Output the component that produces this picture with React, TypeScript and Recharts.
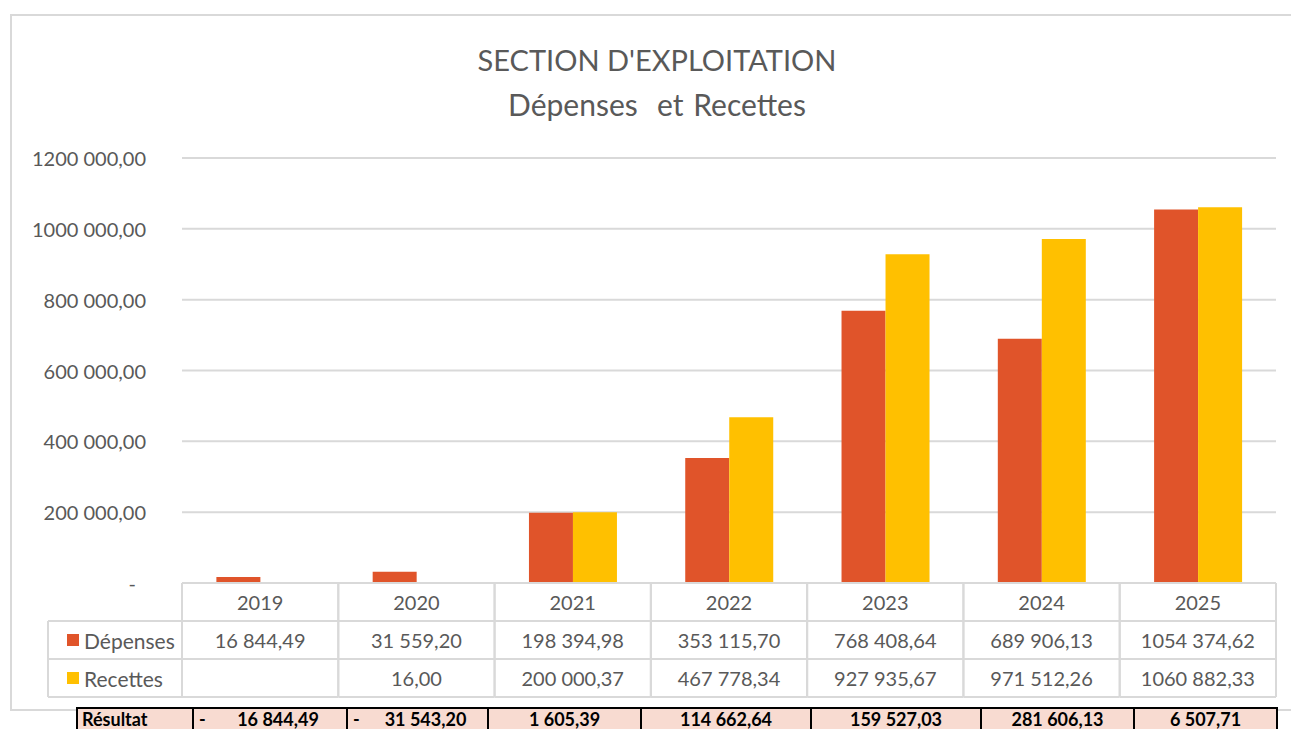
import React from 'react';
import { BarChart, Bar, XAxis, YAxis, CartesianGrid } from 'recharts';

const categories = ['2019', '2020', '2021', '2022', '2023', '2024', '2025'];
const depenses = [16844.49, 31559.2, 198394.98, 353115.7, 768408.64, 689906.13, 1054374.62];
const recettes: (number | null)[] = [null, 16.0, 200000.37, 467778.34, 927935.67, 971512.26, 1060882.33];
const resultat = [-16844.49, -31543.2, 1605.39, 114662.64, 159527.03, 281606.13, 6507.71];
const yTicks = [0, 200000, 400000, 600000, 800000, 1000000, 1200000];

const W = 1291;
const H = 729;
const PLOT_LEFT = 182;
const PLOT_RIGHT = 1276;
const COL_W = (PLOT_RIGHT - PLOT_LEFT) / categories.length;
const ROW_H = 38;
const FONT = 'Lato, "Open Sans", sans-serif';
const TEXT = '#595959';
const GRID = '#D9D9D9';
const RED = '#E0542A';
const YELLOW = '#FFC000';

// Résultat row column edges (page x)
const resEdges = [76, 192, 346, 487, 640, 810, 980, 1133, 1276];

const data = categories.map((c, i) => ({ year: c, depenses: depenses[i], recettes: recettes[i] }));

function fr(v: number) {
  const [ip, dp] = Math.abs(v).toFixed(2).split('.');
  const n = parseInt(ip, 10);
  const s = n >= 1000 ? `${Math.floor(n / 1000)} ${String(n % 1000).padStart(3, '0')}` : String(n);
  return `${s},${dp}`;
}

function YTick(props: any) {
  const { x, y, payload } = props;
  const v = payload.value as number;
  return (
    <text x={v === 0 ? x - 10 : x} y={y} textAnchor="end" dominantBaseline="central"
      fontFamily={FONT} fontSize={20} fill={TEXT}>
      {v === 0 ? '-' : fr(v)}
    </text>
  );
}

function TableTick(props: any) {
  const { x, payload } = props;
  const top = 583;
  const i = payload.index as number;
  const l = x - COL_W / 2;
  const r = x + COL_W / 2;
  const rec = recettes[i];
  const txt = { fontFamily: FONT, fontSize: 20, fill: TEXT } as const;
  return (
    <g>
      <line x1={l} x2={l} y1={top} y2={top + ROW_H * 3} stroke={GRID} strokeWidth={2} />
      <line x1={r} x2={r} y1={top} y2={top + ROW_H * 3} stroke={GRID} strokeWidth={2} />
      {[1, 2, 3].map(k => (
        <line key={k} x1={l} x2={r} y1={top + ROW_H * k} y2={top + ROW_H * k} stroke={GRID} strokeWidth={2} />
      ))}
      <text x={x} y={top + ROW_H / 2} textAnchor="middle" dominantBaseline="central" {...txt}>
        {payload.value}
      </text>
      <text x={x} y={top + ROW_H * 1.5} textAnchor="middle" dominantBaseline="central" {...txt}>
        {fr(depenses[i])}
      </text>
      {rec != null && (
        <text x={x} y={top + ROW_H * 2.5} textAnchor="middle" dominantBaseline="central" {...txt}>
          {fr(rec)}
        </text>
      )}
      {i === 0 && (
        <g>
          <line x1={48} x2={l} y1={top + ROW_H} y2={top + ROW_H} stroke={GRID} strokeWidth={2} />
          <line x1={48} x2={l} y1={top + ROW_H * 2} y2={top + ROW_H * 2} stroke={GRID} strokeWidth={2} />
          <line x1={48} x2={l} y1={top + ROW_H * 3} y2={top + ROW_H * 3} stroke={GRID} strokeWidth={2} />
          <line x1={48} x2={48} y1={top + ROW_H} y2={top + ROW_H * 3} stroke={GRID} strokeWidth={2} />
          <rect x={67} y={top + ROW_H * 1.5 - 6} width={12} height={12} fill={RED} />
          <text x={84} y={top + ROW_H * 1.5} dominantBaseline="central" {...txt} fontSize={21}>Dépenses</text>
          <rect x={67} y={top + ROW_H * 2.5 - 6} width={12} height={12} fill={YELLOW} />
          <text x={84} y={top + ROW_H * 2.5} dominantBaseline="central" {...txt} fontSize={21}>Recettes</text>
        </g>
      )}
    </g>
  );
}

function ResultatRow() {
  const rowH = 22;
  const cellBase: React.CSSProperties = {
    position: 'absolute',
    top: 0,
    height: rowH - 2,
    borderLeft: '2px solid #000',
    boxSizing: 'border-box',
    display: 'flex',
    alignItems: 'center',
    fontFamily: FONT,
    fontWeight: 700,
    fontSize: 18,
    lineHeight: '18px',
    color: '#000',
  };
  return (
    <div style={{ position: 'absolute', left: resEdges[0], top: 707, width: resEdges[resEdges.length - 1] - resEdges[0] + 2, height: rowH, background: '#F8DBD1', borderTop: '2px solid #000', boxSizing: 'border-box' }}>
      <div style={{ ...cellBase, left: 0, width: resEdges[1] - resEdges[0], paddingLeft: 4 }}>Résultat</div>
      {resultat.map((v, i) => {
        const l = resEdges[i + 1] - resEdges[0];
        const w = resEdges[i + 2] - resEdges[i + 1];
        return (
          <div key={i} style={{ ...cellBase, left: l, width: w, justifyContent: 'center' }}>
            {v < 0 && <span style={{ position: 'absolute', left: 5 }}>-</span>}
            <span style={v < 0 ? { marginLeft: 16 } : undefined}>{fr(v)}</span>
          </div>
        );
      })}
      <div style={{ ...cellBase, left: resEdges[resEdges.length - 1] - resEdges[0], width: 2 }} />
    </div>
  );
}

export default function App() {
  return (
    <div style={{ position: 'absolute', left: 0, top: 0, width: W, height: H, overflow: 'hidden', background: '#fff' }}>
      <div style={{ position: 'absolute', left: 10, top: 14, width: 1300, height: 697, border: `2px solid ${GRID}`, boxSizing: 'border-box' }} />
      <div style={{ position: 'absolute', left: 0, top: 0 }}>
        <BarChart width={W} height={H} data={data} margin={{ top: 158, right: W - PLOT_RIGHT, bottom: 0, left: 0 }}
          barCategoryGap="22%" barGap={0}>
          <CartesianGrid horizontal vertical={false} stroke={GRID} strokeWidth={2} />
          <XAxis dataKey="year" height={H - 583} axisLine={{ stroke: GRID, strokeWidth: 2 }} tickLine={false}
            tickSize={0} tickMargin={0} tick={<TableTick />} interval={0} />
          <YAxis width={PLOT_LEFT} domain={[0, 1200000]} ticks={yTicks} axisLine={false} tickLine={false}
            tickSize={6} tickMargin={30} tick={<YTick />} />
          <Bar dataKey="depenses" fill={RED} isAnimationActive={false} />
          <Bar dataKey="recettes" fill={YELLOW} isAnimationActive={false} />
        </BarChart>
      </div>
      <div style={{ position: 'absolute', left: 10, width: 1294, top: 38, textAlign: 'center', fontFamily: FONT, color: TEXT, fontSize: 29, lineHeight: '44px' }}>
        <div>SECTION D'EXPLOITATION</div>
        <div style={{ fontSize: 30, wordSpacing: 2 }}>Dépenses&nbsp; et Recettes</div>
      </div>
      <ResultatRow />
    </div>
  );
}
